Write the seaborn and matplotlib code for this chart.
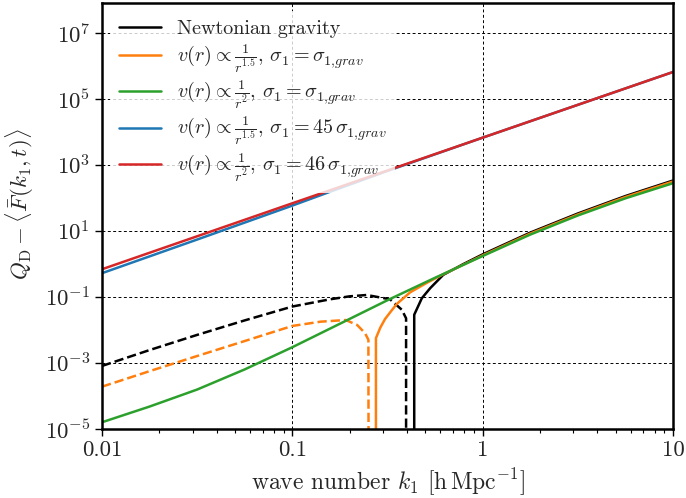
import numpy as np
import pandas as pd
import matplotlib
matplotlib.use("Agg")
import matplotlib.pyplot as plt
import seaborn as sns
from matplotlib.lines import Line2D

# ---------------- data ----------------
k_newton_neg = [0.01, 0.0178, 0.0316, 0.0562, 0.1, 0.158, 0.2, 0.246, 0.326, 0.376, 0.396, 0.396]
v_newton_neg = [7.9e-4, 2.4e-3, 6.9e-3, 0.019, 0.050, 0.083, 0.102, 0.112, 0.083, 0.040, 0.022, 1e-9]
k_newton_pos = [0.437, 0.437, 0.479, 0.530, 0.621, 0.794, 1.0, 1.778, 3.162, 5.623, 10.0]
v_newton_pos = [1e-9, 0.0282, 0.0891, 0.180, 0.457, 0.977, 1.91, 8.71, 33.1, 112.0, 331.0]

k_r15_neg = [0.01, 0.0178, 0.0316, 0.0562, 0.1, 0.141, 0.191, 0.219, 0.241, 0.251, 0.252]
v_r15_neg = [1.86e-4, 5.5e-4, 1.58e-3, 4.5e-3, 0.0129, 0.0174, 0.0195, 0.0138, 7.8e-3, 4.9e-3, 1e-9]
k_r15_pos = [0.275, 0.275, 0.290, 0.307, 0.330, 0.354, 0.416, 0.508, 0.617, 0.794, 1.0, 1.778, 3.162, 5.623, 10.0]
v_r15_pos = [1e-9, 5.5e-3, 0.0115, 0.0209, 0.036, 0.060, 0.135, 0.260, 0.468, 0.933, 1.78, 8.13, 30.9, 104.7, 309.0]

k_r2 = [0.01, 0.0178, 0.0316, 0.0562, 0.1, 0.178, 0.316, 0.562, 1.0, 1.778, 3.162, 5.623, 10.0]
v_r2 = [1.55e-5, 4.65e-5, 1.52e-4, 6.2e-4, 2.92e-3, 0.0151, 0.0776, 0.372, 1.70, 7.59, 28.8, 95.5, 275.0]

k_r15_45 = [0.01, 0.0316, 0.1, 0.178, 0.316, 1.0, 10.0]
v_r15_45 = [0.513, 5.37, 57.5, 195.0, 646.0, 6.6e3, 6.46e5]

k_r2_46 = [0.01, 0.1, 1.0, 10.0]
v_r2_46 = [0.676, 67.6, 6.6e3, 6.46e5]

labels = [
    "Newtonian gravity",
    r"$v(r)\propto\frac{1}{r^{1.5}}$, $\sigma_1=\sigma_{1{,}grav}$",
    r"$v(r)\propto\frac{1}{r^{2}}$, $\sigma_1=\sigma_{1{,}grav}$",
    r"$v(r)\propto\frac{1}{r^{1.5}}$, $\sigma_1=45\,\sigma_{1{,}grav}$",
    r"$v(r)\propto\frac{1}{r^{2}}$, $\sigma_1=46\,\sigma_{1{,}grav}$",
]
colors = ["black", "#ff7f0e", "#2ca02c", "#1f77b4", "#d62728"]
x_ticks = [0.01, 0.1, 1, 10]
x_ticklabels = ["0.01", "0.1", "1", "10"]
y_ticks = [1e-5, 1e-3, 1e-1, 1e1, 1e3, 1e5, 1e7]

# ---------------- style ----------------
sns.set_style("ticks")
plt.rcParams["font.family"] = ["cmr10", "DejaVu Serif"]
plt.rcParams["mathtext.fontset"] = "cm"
plt.rcParams["axes.unicode_minus"] = False
plt.rcParams["axes.formatter.use_mathtext"] = True

fig = plt.figure(figsize=(6.86, 4.98), dpi=100)
ax = fig.add_axes([0.1487, 0.1395, 0.8323, 0.8545])

lw = 1.8

def draw(k, v, color, ls):
    df = pd.DataFrame({"k": k, "v": v})
    sns.lineplot(data=df, x="k", y="v", ax=ax, color=color, linestyle=ls, lw=lw,
                 sort=False, estimator=None, legend=False)

draw(k_newton_neg, v_newton_neg, colors[0], "--")
draw(k_newton_pos, v_newton_pos, colors[0], "-")
draw(k_r15_neg, v_r15_neg, colors[1], "--")
draw(k_r15_pos, v_r15_pos, colors[1], "-")
draw(k_r2, v_r2, colors[2], "-")
draw(k_r15_45, v_r15_45, colors[3], "-")
draw(k_r2_46, v_r2_46, colors[4], "-")

ax.set_xscale("log")
ax.set_yscale("log")
ax.set_xlim(0.01, 10)
ax.set_ylim(1e-5, 8e7)
ax.set_xticks(x_ticks)
ax.set_xticklabels(x_ticklabels)
ax.set_yticks(y_ticks)
ax.yaxis.set_minor_locator(matplotlib.ticker.NullLocator())
ax.tick_params(axis="both", which="major", labelsize=16.5, length=5, width=1.0, color="black")
ax.tick_params(axis="x", which="minor", length=3, width=0.8, color="black")

ax.grid(True, which="major", color="black", linestyle=(0, (3, 2.5)), lw=0.7)
ax.set_axisbelow(True)
for s in ax.spines.values():
    s.set_linewidth(1.8)
    s.set_color("black")
    s.set_visible(True)

ax.set_xlabel(r"wave number $k_1$ $[\mathrm{h\,Mpc^{-1}}]$", fontsize=17, labelpad=5)
ax.set_ylabel(r"$Q_\mathrm{D}-\langle\bar{F}(k_1,t)\rangle$", fontsize=16.5)
ax.yaxis.set_label_coords(-0.115, 0.528)

handles = [Line2D([0], [0], color=c, lw=lw) for c in colors]
leg = ax.legend(handles, labels, loc="upper left", bbox_to_anchor=(0.0, 1.0),
                fontsize=14.5, frameon=True, fancybox=False, framealpha=0.8,
                edgecolor="none", handlelength=2.1, handletextpad=0.75,
                labelspacing=0.2, borderpad=0.45, borderaxespad=0.4)
leg.get_frame().set_facecolor("white")

fig.savefig("out.png", dpi=100)
